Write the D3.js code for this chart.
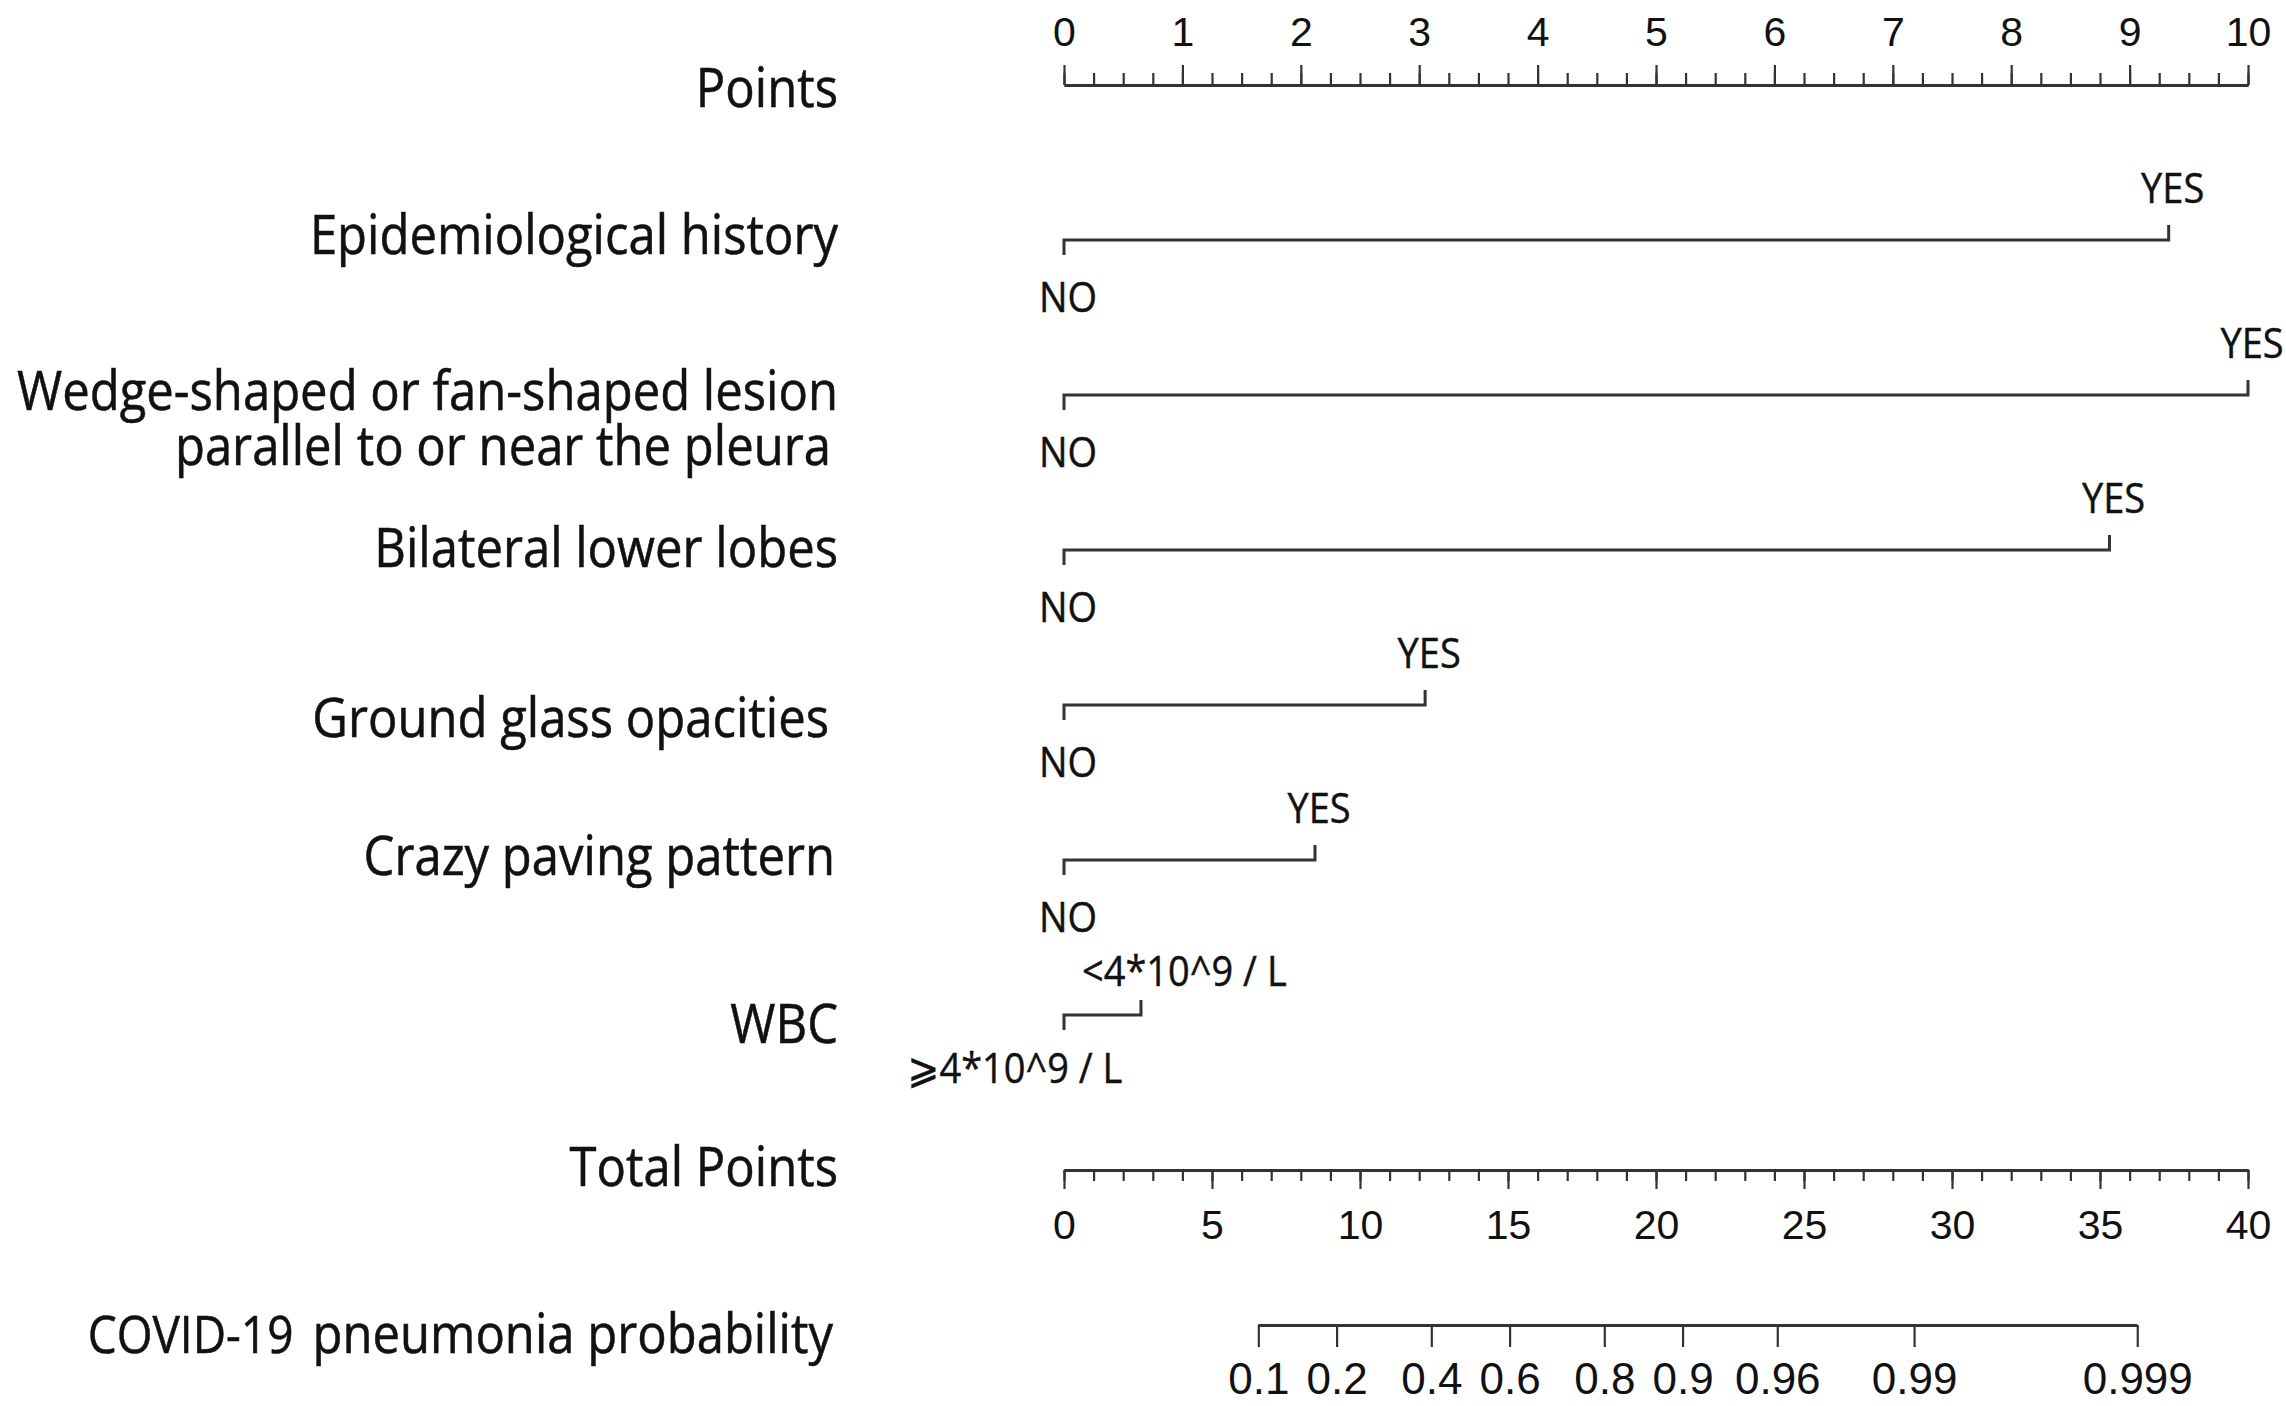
<!DOCTYPE html>
<html>
<head>
<meta charset="utf-8">
<script src="https://cdn.jsdelivr.net/npm/d3@7"></script>
<style>
  body { margin: 0; background: #fff; }
  .label { font-family: "Open Sans", sans-serif; fill: #111; stroke: #111; stroke-width: 0.5px; }
  .level { font-family: "Open Sans", "DejaVu Sans", sans-serif; fill: #111; font-size: 38px; stroke: #111; stroke-width: 0.4px; }
  .rule { stroke: #333; stroke-width: 3; fill: none; }
</style>
</head>
<body>
<svg width="2286" height="1406"></svg>
<script>
(function () {
  "use strict";

  // nomogram content
  const predictors = [
    "Epidemiological history",
    "Wedge-shaped or fan-shaped lesion\nparallel to or near the pleura",
    "Bilateral lower lobes",
    "Ground glass opacities",
    "Crazy paving pattern",
    "WBC"
  ];
  const refLevels = ["NO", "NO", "NO", "NO", "NO", "\u2A7E4*10^9 / L"];
  const altLevels = ["YES", "YES", "YES", "YES", "YES", "<4*10^9 / L"];
  const altPoints = [9.33, 10, 8.83, 3.05, 2.12, 0.65];

  const pointTicks = [0, 1, 2, 3, 4, 5, 6, 7, 8, 9, 10];
  const totalTicks = [0, 5, 10, 15, 20, 25, 30, 35, 40];
  const probTicks = [0.1, 0.2, 0.4, 0.6, 0.8, 0.9, 0.96, 0.99, 0.999];
  const probLabels = ["0.1", "0.2", "0.4", "0.6", "0.8", "0.9", "0.96", "0.99", "0.999"];

  // linear predictor = intercept + slope * total points
  const lpIntercept = -4.21;
  const lpSlope = 0.3066;

  // layout: label nudges per row (Points, predictors..., Total Points, probability)
  const labelDy = [2, -6, -5, -3, 12, -5, 8, -4, 10];
  const labelDx = [0, 0, 0, 0, -9, -3, 0, 0, -5];

  const svg = d3.select("svg");
  const left = 1064, right = 2248, labelX = 838;
  const stretch = 1.12; // reference glyphs are taller than Open Sans

  const yRow = d3.scaleLinear().domain([0, 8]).range([85, 1325]);
  const xPts = d3.scaleLinear().domain([0, 10]).range([left, right]);
  const xTot = d3.scaleLinear().domain([0, 40]).range([left, right]);
  const xLp = d3.scaleLinear()
    .domain([lpIntercept, lpIntercept + 40 * lpSlope])
    .range([left, right]);
  const logit = (p) => Math.log(p / (1 - p));

  const styleAxis = (g, size) => {
    g.attr("font-family", "'Liberation Sans', Arial, sans-serif")
      .attr("font-size", size || 41)
      .attr("fill", "#111");
    g.selectAll("line").attr("stroke", "#333").attr("stroke-width", 2.2);
    g.selectAll(".domain").attr("stroke", "#333").attr("stroke-width", 3);
    g.selectAll("text").attr("fill", "#111");
  };

  const place = (x, y) => `translate(${x},${y}) scale(1,${stretch})`;

  // row labels
  const rowNames = ["Points"].concat(predictors, ["Total Points"]);
  rowNames.forEach((name, i) => {
    const lines = name.split("\n");
    const t = svg.append("text")
      .attr("class", "label")
      .attr("font-size", 49)
      .attr("text-anchor", "end")
      .attr("transform", place(labelX + labelDx[i], yRow(i) + labelDy[i]));
    lines.forEach((ln, j) => {
      t.append("tspan")
        .attr("x", j > 0 ? -7 : 0)
        .attr("dy", j === 0 ? "0.357em" : (55 / stretch) + "px")
        .text(ln);
    });
  });

  const probLabel = svg.append("text")
    .attr("class", "label")
    .attr("text-anchor", "end")
    .attr("transform", place(labelX + labelDx[8], yRow(8) + labelDy[8]));
  probLabel.append("tspan").attr("font-size", 46).attr("dy", "0.357em").text("COVID-19");
  probLabel.append("tspan").attr("font-size", 49).attr("dx", 19).text("pneumonia probability");

  // Points axis
  const ptsG = svg.append("g").attr("transform", `translate(0,${yRow(0)})`);
  ptsG.append("g").call(
    d3.axisTop(xPts).tickValues(d3.range(0, 10.001, 0.25))
      .tickSize(12).tickSizeOuter(0).tickFormat("")
  ).call(styleAxis);
  ptsG.append("g").call(
    d3.axisTop(xPts).tickValues(pointTicks)
      .tickSize(20).tickSizeOuter(0).tickPadding(19)
  ).call(styleAxis);

  // predictor rows
  predictors.forEach((name, i) => {
    const y = yRow(i + 1);
    const x0 = xPts(0);
    const x1 = xPts(altPoints[i]);
    const p = d3.path();
    p.moveTo(x0, y + 15);
    p.lineTo(x0, y);
    p.lineTo(x1, y);
    p.lineTo(x1, y - 15);
    svg.append("path").attr("class", "rule").attr("d", p.toString());

    const wide = altLevels[i].length > 3;
    svg.append("text")
      .attr("class", "level")
      .attr("text-anchor", wide ? "start" : "middle")
      .attr("transform", place(wide ? x0 + 18 : x1 + 4, y - (wide ? 44 : 52)))
      .attr("dy", "0.357em")
      .text(altLevels[i]);
    svg.append("text")
      .attr("class", "level")
      .attr("text-anchor", "middle")
      .attr("transform", place(wide ? x0 - 49 : x0 + 4, y + (wide ? 53 : 57)))
      .attr("dy", "0.357em")
      .text(refLevels[i]);
  });

  // Total points axis
  const totG = svg.append("g").attr("transform", `translate(0,${yRow(7)})`);
  totG.append("g").call(
    d3.axisBottom(xTot).tickValues(d3.range(0, 40.001, 1))
      .tickSize(11).tickSizeOuter(0).tickFormat("")
  ).call(styleAxis);
  totG.append("g").call(
    d3.axisBottom(xTot).tickValues(totalTicks)
      .tickSize(19).tickSizeOuter(0).tickPadding(21)
  ).call(styleAxis);

  // probability axis
  const probG = svg.append("g").attr("transform", `translate(0,${yRow(8)})`);
  probG.call(
    d3.axisBottom(xLp).tickValues(probTicks.map(logit))
      .tickSize(22).tickSizeOuter(0).tickPadding(16)
      .tickFormat((d, i) => probLabels[i])
  ).call((g) => styleAxis(g, 44));
  probG.select(".domain").remove();
  probG.append("line")
    .attr("x1", xLp(logit(probTicks[0])))
    .attr("x2", xLp(logit(probTicks[probTicks.length - 1])))
    .attr("y1", 0.5).attr("y2", 0.5)
    .attr("stroke", "#333").attr("stroke-width", 3);
})();
</script>
</body>
</html>
